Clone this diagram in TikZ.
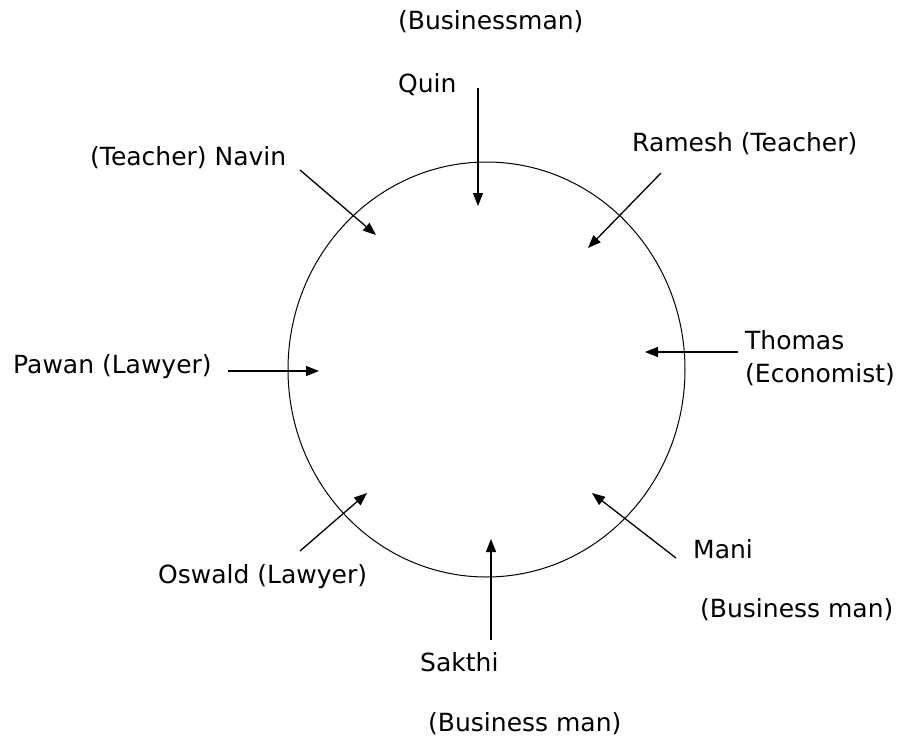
\documentclass[tikz,border=0pt]{standalone}
\usepackage{fontspec}
\setmainfont{DejaVu Sans}
\usetikzlibrary{arrows.meta,shapes.geometric}
\begin{document}
\begin{tikzpicture}[x=1pt,y=-1pt,
  lbl/.style={inner sep=0pt,anchor=west,font=\fontsize{25}{29}\selectfont},
  arr/.style={-{Triangle[length=13pt,width=10pt]},line width=1.3pt}]
\useasboundingbox (0,0) rectangle (898,740);
\node[draw,ellipse,minimum width=397pt,minimum height=415pt,inner sep=0pt,line width=1pt] (c) at (486.5,369.5) {};
\node[lbl] (bq) at (398,22) {(Businessman)};
\node[lbl] (quin) at (398,85) {Quin};
\node[lbl] (navin) at (90,158) {(Teacher) Navin};
\node[lbl] (ramesh) at (632,144) {Ramesh (Teacher)};
\node[lbl] (thomas) at (745,340) {Thomas};
\node[lbl] (econ) at (745,375) {(Economist)};
\node[lbl] (pawan) at (13,367) {Pawan (Lawyer)};
\node[lbl] (oswald) at (158,577) {Oswald (Lawyer)};
\node[lbl] (mani) at (693,549) {Mani};
\node[lbl] (bm1) at (700,610) {(Business man)};
\node[lbl] (sakthi) at (420,662) {Sakthi};
\node[lbl] (bm2) at (428,724) {(Business man)};
\coordinate (q0) at (478,88); \coordinate (q1) at (478,206);
\coordinate (n0) at (300,170); \coordinate (n1) at (376,235);
\coordinate (r0) at (661,173); \coordinate (r1) at (588,248);
\coordinate (t0) at (738,352); \coordinate (t1) at (645,352);
\coordinate (p0) at (228,371); \coordinate (p1) at (319,371);
\coordinate (o0) at (300,551); \coordinate (o1) at (367,493);
\coordinate (s0) at (491,640); \coordinate (s1) at (491,539);
\coordinate (m0) at (676,558); \coordinate (m1) at (592,493);
\foreach \a in {q,n,r,t,p,o,s,m} {\draw[arr] (\a0) -- (\a1);}
\end{tikzpicture}
\end{document}
